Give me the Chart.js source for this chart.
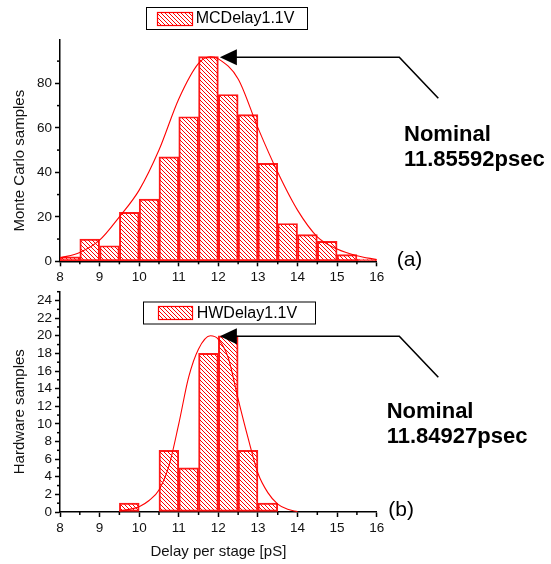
<!DOCTYPE html>
<html>
<head>
<meta charset="utf-8">
<script src="https://cdn.jsdelivr.net/npm/chart.js@4.4.1/dist/chart.umd.min.js"></script>
<style>
  body { margin: 0; background: #fff; }
  #wrap { position: relative; width: 551px; height: 564px; overflow: hidden; }
  .box { position: absolute; left: 0; }
</style>
</head>
<body>
<div id="wrap">
  <div class="box" style="top:0;"><canvas id="mc" width="551" height="290"></canvas></div>
  <div class="box" style="top:280px;"><canvas id="hw" width="551" height="284"></canvas></div>
</div>
<script>
// histogram bins (0.5 pS wide), counts
var binCenters = [8.25, 8.75, 9.25, 9.75, 10.25, 10.75, 11.25, 11.75, 12.25, 12.75, 13.25, 13.75, 14.25, 14.75, 15.25, 15.75];
var mcCounts = [2, 10, 7, 22, 28, 47, 65, 92, 75, 66, 44, 17, 12, 9, 3, 1];
var hwCounts = [0, 0, 0, 1, 0, 7, 5, 18, 20, 7, 1, 0, 0, 0, 0, 0];

// fitted curves, points
var mcFitX = [8.0, 8.5, 9.0, 9.5, 10.0, 10.5, 11.0, 11.5, 11.8, 12.0, 12.5, 13.0, 13.5, 14.0, 14.5, 15.0, 15.5, 16.0];
var mcFitY = [1.5, 4, 9.5, 20, 32, 50, 73, 89, 92, 91, 82, 60, 40, 23, 11, 5.5, 2.5, 0.8];
var hwFitX = [9.5, 9.75, 10.0, 10.25, 10.5, 10.75, 11.0, 11.25, 11.5, 11.8, 12.0, 12.25, 12.5, 12.75, 13.0, 13.25, 13.5, 13.75, 14.0];
var hwFitY = [0.1, 0.3, 0.6, 1.3, 2.5, 5.2, 10, 15.3, 18.5, 20, 19.6, 17.5, 12.8, 8.4, 4.4, 2.2, 0.9, 0.3, 0.05];

var xTicks = [8, 9, 10, 11, 12, 13, 14, 15, 16];
var xMinor = [8.5, 9.5, 10.5, 11.5, 12.5, 13.5, 14.5, 15.5];
var mcYTicks = [0, 20, 40, 60, 80];
var mcYMinor = [10, 30, 50, 70, 90];
var hwYTicks = [0, 2, 4, 6, 8, 10, 12, 14, 16, 18, 20, 22, 24];
var hwYMinor = [1, 3, 5, 7, 9, 11, 13, 15, 17, 19, 21, 23, 25];

var mcLabel = 'MCDelay1.1V';
var hwLabel = 'HWDelay1.1V';
var mcNote = ['Nominal', '11.85592psec'];
var hwNote = ['Nominal', '11.84927psec'];

Chart.defaults.font.family = "'Liberation Sans', Arial, sans-serif";
Chart.defaults.color = '#111';

function hatch() {
  var c = document.createElement('canvas');
  c.width = 4; c.height = 4;
  var g = c.getContext('2d');
  g.strokeStyle = '#ff0000';
  g.lineWidth = 1;
  [-4, 0, 4].forEach(function (o) {
    g.beginPath();
    g.moveTo(o, 0);
    g.lineTo(o + 4, 4);
    g.stroke();
  });
  return g.createPattern(c, 'repeat');
}
var pat = hatch();

function pts(xs, ys) {
  return xs.map(function (x, i) { return { x: x, y: ys[i] }; });
}

function decor(o) {
  return {
    id: 'decor',
    afterDraw: function (chart) {
      var ctx = chart.ctx, xs = chart.scales.x, ys = chart.scales.y;
      ctx.save();
      // minor ticks
      ctx.strokeStyle = '#000';
      ctx.lineWidth = 1.5;
      o.xMinor.forEach(function (v) {
        var px = xs.getPixelForValue(v);
        ctx.beginPath(); ctx.moveTo(px, xs.top); ctx.lineTo(px, xs.top + 3); ctx.stroke();
      });
      o.yMinor.forEach(function (v) {
        var py = ys.getPixelForValue(v);
        if (py < ys.top - 0.5) return;
        ctx.beginPath(); ctx.moveTo(ys.right, py); ctx.lineTo(ys.right - 3, py); ctx.stroke();
      });
      // y title
      ctx.fillStyle = '#111';
      ctx.font = "15px 'Liberation Sans', Arial, sans-serif";
      ctx.textAlign = 'center';
      ctx.textBaseline = 'middle';
      ctx.save();
      ctx.translate(19.5, o.yTitleY);
      ctx.rotate(-Math.PI / 2);
      ctx.fillText(o.yTitle, 0, 0);
      ctx.restore();
      // legend
      var L = o.legend;
      ctx.fillStyle = '#fff';
      ctx.fillRect(L.x, L.y, L.w, L.h);
      ctx.strokeStyle = '#000';
      ctx.lineWidth = 1;
      ctx.strokeRect(L.x + 0.5, L.y + 0.5, L.w, L.h);
      ctx.fillStyle = pat;
      ctx.fillRect(L.sx, L.sy, L.sw, L.sh);
      ctx.strokeStyle = '#ff0000';
      ctx.lineWidth = 1.2;
      ctx.strokeRect(L.sx, L.sy, L.sw, L.sh);
      ctx.fillStyle = '#000';
      ctx.font = "16px 'Liberation Sans', Arial, sans-serif";
      ctx.textAlign = 'left';
      ctx.textBaseline = 'middle';
      ctx.fillText(L.text, L.tx, L.ty);
      // arrow to the peak
      var tx = xs.getPixelForValue(o.peakX) + 1.5, ty = ys.getPixelForValue(o.peakY) + 0.5;
      ctx.fillStyle = '#000';
      ctx.beginPath();
      ctx.moveTo(tx, ty); ctx.lineTo(tx + 17, ty - 8); ctx.lineTo(tx + 17, ty + 8); ctx.closePath();
      ctx.fill();
      ctx.strokeStyle = '#000';
      ctx.lineWidth = 1.6;
      ctx.beginPath();
      ctx.moveTo(tx + 16, ty); ctx.lineTo(399.3, ty); ctx.lineTo(438.3, ty + 41);
      ctx.stroke();
      // note text
      ctx.font = "bold 22px 'Liberation Sans', Arial, sans-serif";
      ctx.textBaseline = 'alphabetic';
      ctx.fillText(o.note[0], o.noteX, o.noteY);
      ctx.fillText(o.note[1], o.noteX, o.noteY + 25.3);
      ctx.font = "21px 'Liberation Sans', Arial, sans-serif";
      ctx.fillText(o.tag, o.tagX, o.tagY);
      ctx.restore();
    }
  };
}

function makeChart(id, counts, fitX, fitY, yMax, yTicks, padTop, xHeight, xTitle, deco) {
  return new Chart(document.getElementById(id), {
    type: 'bar',
    data: {
      datasets: [
        {
          type: 'line',
          data: pts(fitX, fitY),
          borderColor: '#ff0000',
          borderWidth: 1.1,
          pointRadius: 0,
          cubicInterpolationMode: 'monotone',
          order: 0
        },
        {
          type: 'bar',
          data: pts(binCenters, counts),
          backgroundColor: pat,
          borderColor: '#ff1a1a',
          borderWidth: 1.3,
          borderSkipped: false,
          barPercentage: 1,
          categoryPercentage: 1,
          order: 1
        }
      ]
    },
    options: {
      responsive: false,
      animation: false,
      devicePixelRatio: 1,
      layout: { padding: { left: 0, right: 174.3, top: padTop, bottom: 0 } },
      plugins: { legend: { display: false }, tooltip: { enabled: false } },
      scales: {
        x: {
          type: 'linear', min: 8, max: 16, offset: false,
          afterBuildTicks: function (s) { s.ticks = xTicks.map(function (v) { return { value: v }; }); },
          grid: { offset: false, drawOnChartArea: false, color: '#000', tickLength: 5, tickWidth: 1.5 },
          border: { color: '#000', width: 1.5 },
          ticks: { padding: 3, maxRotation: 0, autoSkip: false, font: { size: 13.5 } },
          title: {
            display: !!xTitle, text: xTitle || '', color: '#111',
            font: { size: 15 }, padding: { top: 0, bottom: 3.3 }
          },
          afterFit: function (s) { s.height = xHeight; }
        },
        y: {
          type: 'linear', min: 0, max: yMax,
          afterBuildTicks: function (s) { s.ticks = yTicks.map(function (v) { return { value: v }; }); },
          grid: { drawOnChartArea: false, color: '#000', tickLength: 5, tickWidth: 1.5 },
          border: { color: '#000', width: 1.5 },
          ticks: { padding: 3, autoSkip: false, font: { size: 13.5 } },
          afterFit: function (s) { s.width = 60; }
        }
      }
    },
    plugins: [decor(deco)]
  });
}

makeChart('mc', mcCounts, mcFitX, mcFitY, 99.5, mcYTicks, 40, 28.7, null, {
  xMinor: xMinor, yMinor: mcYMinor,
  yTitle: 'Monte Carlo samples', yTitleY: 160.7,
  legend: { x: 146, y: 7, w: 161, h: 22, sx: 157.5, sy: 12.5, sw: 35, sh: 13, text: mcLabel, tx: 195.7, ty: 18.8 },
  peakX: 12, peakY: 92,
  note: mcNote, noteX: 404, noteY: 140.7,
  tag: '(a)', tagX: 396.7, tagY: 265.6
});

makeChart('hw', hwCounts, hwFitX, hwFitY, 25, hwYTicks, 11.7, 52, 'Delay per stage [pS]', {
  xMinor: xMinor, yMinor: hwYMinor,
  yTitle: 'Hardware samples', yTitleY: 131.7,
  legend: { x: 143, y: 21.5, w: 172, h: 22, sx: 158.5, sy: 26.5, sw: 34, sh: 13, text: hwLabel, tx: 196.7, ty: 33.2 },
  peakX: 12, peakY: 20,
  note: hwNote, noteX: 386.7, noteY: 137.7,
  tag: '(b)', tagX: 388.3, tagY: 235.6
});
</script>
</body>
</html>
